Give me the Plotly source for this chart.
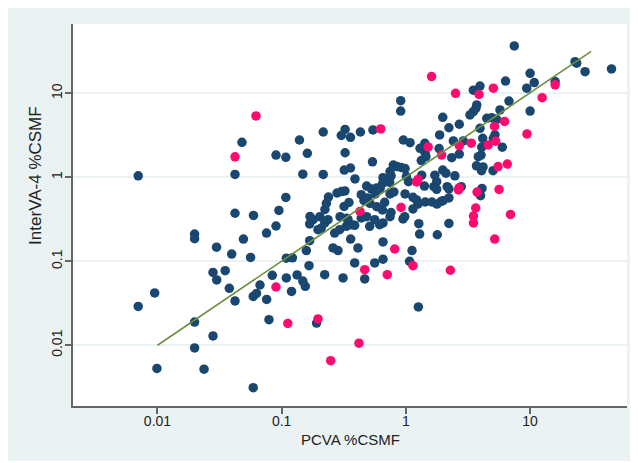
import plotly.graph_objects as go

# PCVA %CSMF (x) vs InterVA-4 %CSMF (y) -- main series (navy)
navy_x = [0.007, 0.0095, 0.007, 0.0099, 0.0199, 0.0199, 0.0199, 0.0199, 0.0237, 0.028,
          0.0299, 0.028, 0.030, 0.0351, 0.0379, 0.0396, 0.0421, 0.0492, 0.0562, 0.059,
          0.0627, 0.0669, 0.0757, 0.059, 0.0479, 0.0421, 0.0421, 0.0593, 0.09, 0.108,
          0.108, 0.095, 0.0755, 0.09, 0.109, 0.122, 0.084, 0.109, 0.133, 0.148,
          0.155, 0.12, 0.079, 0.191, 1.26, 0.139, 0.148, 0.161, 0.216, 0.216,
          0.302, 0.324, 0.358, 0.43, 0.543, 0.324, 0.538, 0.319, 0.358, 0.389,
          0.792, 0.848, 0.914, 0.984, 0.745, 0.654, 1.01, 1.05, 1.34, 1.41,
          1.71, 1.77, 1.68, 1.77, 1.98, 2.10, 2.48, 0.908, 0.908, 1.98,
          1.87, 0.953, 1.08, 1.42, 1.30, 1.85, 1.43, 1.45, 2.34, 2.69,
          4.03, 3.83, 2.41, 2.90, 2.22, 2.69, 3.95, 4.15, 5.21, 5.06,
          4.08, 5.97, 4.48, 4.91, 5.38, 3.72, 3.66, 3.49, 3.28, 5.72,
          6.76, 10.0, 3.49, 3.95, 6.34, 9.39, 10.0, 10.8, 15.9, 7.46,
          23.0, 23.7, 27.7, 45.2, 2.22, 2.15, 2.22, 2.79, 4.10, 3.99,
          2.22, 1.99, 3.70, 4.08, 4.18, 4.06, 5.03, 1.27, 1.29, 1.79,
          0.948, 1.12, 1.07, 0.654, 0.654, 0.561, 0.387, 0.466, 0.312, 0.222,
          0.359, 0.411, 0.259, 0.284, 0.168, 0.158, 0.166, 0.168, 0.179, 0.196,
          0.208, 0.222, 0.236, 0.267, 0.293, 0.331, 0.363, 0.387, 0.342, 0.437,
          0.511, 0.561, 0.615, 0.654, 0.238, 0.229, 0.279, 0.303, 0.323, 0.223,
          0.348, 0.318, 0.437, 0.46, 0.527, 0.582, 0.567, 0.483, 0.65, 0.62,
          0.675, 0.745, 0.80, 0.74, 0.985, 1.14, 1.22, 1.25, 1.14, 1.43,
          1.62, 1.78, 1.92, 0.514, 0.582, 0.647, 0.759, 0.49, 0.295, 0.334,
          0.483, 0.745, 0.169, 0.203, 0.978, 0.76, 1.33]
navy_y = [1.04, 0.042, 0.029, 0.0053, 0.211, 0.186, 0.0189, 0.0093, 0.0052, 0.0129,
          0.147, 0.0736, 0.0599, 0.0773, 0.0477, 0.122, 0.0337, 0.184, 0.111, 0.0381,
          0.0414, 0.0522, 0.0351, 0.00313, 2.61, 1.08, 0.373, 0.351, 1.84, 1.73,
          0.575, 0.403, 0.217, 0.263, 0.109, 0.110, 0.068, 0.0633, 0.0687, 0.0582,
          0.0504, 0.0437, 0.0202, 0.0184, 0.0286, 2.78, 1.09, 1.93, 3.46, 1.08,
          3.15, 3.71, 2.99, 3.46, 3.66, 1.96, 1.53, 1.22, 1.29, 0.955,
          1.40, 1.34, 1.31, 1.27, 1.17, 0.99, 1.02, 0.887, 1.06, 0.787,
          1.06, 0.887, 0.773, 0.72, 1.22, 1.12, 1.04, 8.17, 6.15, 5.18,
          3.19, 2.78, 2.58, 2.54, 2.21, 2.20, 1.93, 1.76, 1.71, 1.89,
          1.84, 1.76, 2.71, 2.71, 3.89, 4.28, 3.83, 2.91, 3.19, 2.91,
          2.28, 2.28, 5.04, 5.12, 4.90, 7.26, 6.63, 6.04, 5.52, 6.33,
          8.09, 6.15, 10.9, 12.2, 14.0, 11.5, 17.3, 13.4, 13.8, 36.6,
          23.8, 22.8, 18.1, 19.5, 0.282, 0.773, 0.726, 0.773, 0.736, 0.604,
          0.567, 0.526, 1.37, 1.29, 1.33, 1.20, 1.20, 0.28, 0.211, 0.207,
          0.319, 0.134, 0.1, 0.170, 0.106, 0.0955, 0.0955, 0.0617, 0.0633, 0.0692,
          0.184, 0.144, 0.144, 0.134, 0.176, 0.134, 0.0887, 0.278, 0.313, 0.238,
          0.248, 0.286, 0.313, 0.217, 0.238, 0.261, 0.273, 0.268, 0.313, 0.328,
          0.261, 0.313, 0.273, 0.286, 0.582, 0.49, 0.65, 0.675, 0.687, 0.414,
          0.501, 0.449, 0.621, 0.526, 0.726, 0.747, 0.633, 0.787, 0.849, 0.74,
          0.504, 0.633, 0.67, 0.871, 0.633, 0.578, 0.537, 0.48, 0.42, 0.508,
          0.508, 0.48, 0.515, 0.488, 0.447, 0.408, 0.381, 0.567, 0.34, 0.325,
          0.34, 0.34, 0.341, 0.34, 0.34, 1.04, 1.58]

# highlighted series (pink)
pink_x = [0.0621, 0.0421, 1.61, 0.627, 1.51, 1.94, 1.25, 1.22, 0.914, 0.427,
          2.51, 3.88, 5.06, 15.9, 12.5, 6.22, 5.17, 9.44, 2.69, 3.36,
          4.60, 5.28, 5.52, 6.55, 2.68, 2.65, 3.74, 5.62, 3.65, 3.50,
          3.50, 6.95, 5.19, 2.28, 0.813, 1.14, 0.466, 0.708, 0.09, 0.112,
          0.196, 0.419, 0.248]
pink_y = [5.37, 1.75, 15.8, 3.76, 2.30, 1.84, 0.944, 0.881, 0.437, 0.392,
          10.0, 9.68, 11.5, 12.6, 8.87, 4.62, 4.03, 3.28, 2.38, 2.55,
          2.43, 2.69, 1.34, 1.44, 0.747, 0.706, 0.667, 0.716, 0.431, 0.346,
          0.286, 0.361, 0.184, 0.0782, 0.14, 0.0887, 0.0794, 0.0692, 0.0494, 0.0182,
          0.0206, 0.0106, 0.00656]

# fitted line
fit_x = [0.01, 31.0]
fit_y = [0.01, 31.5]

tick_vals = [0.01, 0.1, 1, 10]
tick_text = ["0.01", "0.1", "1", "10"]
x_title = "PCVA %CSMF"
y_title = "InterVA-4 %CSMF"

NAVY = "#1a476f"
PINK = "#ff0a6e"
GREEN = "#6e8f3e"
BG = "#eaf2f3"
TXT = "#222222"
AX = "#666666"

fig = go.Figure()
fig.add_trace(go.Scatter(x=navy_x, y=navy_y, mode="markers",
                         marker=dict(color=NAVY, size=9.5, line=dict(width=0)),
                         showlegend=False))
fig.add_trace(go.Scatter(x=pink_x, y=pink_y, mode="markers",
                         marker=dict(color=PINK, size=9.5, line=dict(width=0)),
                         showlegend=False))
fig.add_trace(go.Scatter(x=fit_x, y=fit_y, mode="lines",
                         line=dict(color=GREEN, width=1.6),
                         showlegend=False))

font_fam = "Liberation Sans, Arial, sans-serif"
fig.update_layout(
    width=624, height=453,
    margin=dict(l=65, r=5, t=16, b=55),
    paper_bgcolor=BG,
    plot_bgcolor="white",
    font=dict(family=font_fam, size=14, color=TXT),
    xaxis=dict(type="log", range=[-2.680, 1.780],
               tickmode="array", tickvals=tick_vals, ticktext=tick_text,
               showgrid=False, zeroline=False,
               showline=True, linecolor=AX, linewidth=1.5,
               ticks="outside", ticklen=6, tickwidth=1.5, tickcolor=AX,
               ticklabelstandoff=-5,
               tickfont=dict(size=14, color=TXT)),
    yaxis=dict(type="log", range=[-2.723, 1.825],
               tickmode="array", tickvals=tick_vals, ticktext=tick_text,
               showgrid=True, gridcolor=BG, gridwidth=1.5, zeroline=False,
               showline=True, linecolor=AX, linewidth=1.5,
               ticks="outside", ticklen=6, tickwidth=1.5, tickcolor=AX,
               tickangle=-90, ticklabelstandoff=-2,
               tickfont=dict(size=14, color=TXT)),
    annotations=[
        dict(text=x_title, xref="paper", yref="paper", x=0.5, y=-0.089,
             xanchor="center", yanchor="middle", showarrow=False,
             font=dict(size=15, color=TXT)),
        dict(text=y_title, xref="paper", yref="paper", x=-0.0668, y=0.605,
             xanchor="center", yanchor="middle", showarrow=False, textangle=-90,
             font=dict(size=17, color=TXT)),
    ],
)

fig.write_html("out.html")
